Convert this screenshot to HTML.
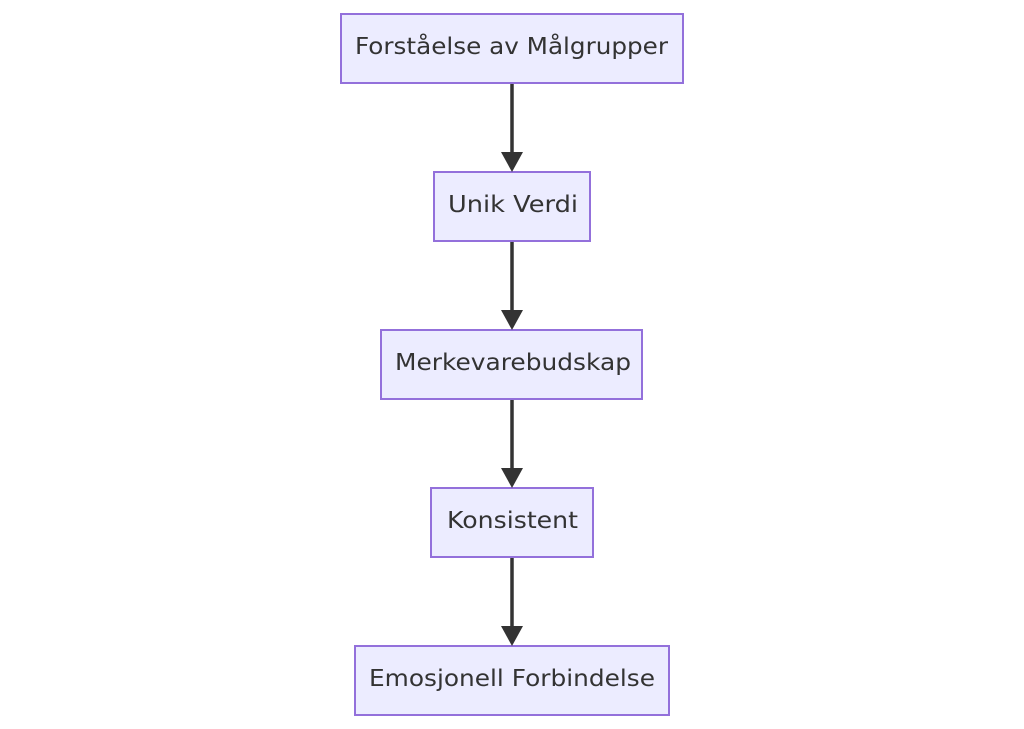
<!DOCTYPE html>
<html><head><meta charset="utf-8"><style>html,body{margin:0;padding:0;background:#fff}svg{display:block}</style></head>
<body>
<svg width="1024" height="729" viewBox="0 0 1024 729" xmlns="http://www.w3.org/2000/svg">
<g fill="#ececff" stroke="#9370db" stroke-width="2">
<rect x="341" y="14" width="342" height="69"/>
<rect x="434" y="172" width="156" height="69"/>
<rect x="381" y="330" width="261" height="69"/>
<rect x="431" y="488" width="162" height="69"/>
<rect x="355" y="646" width="314" height="69"/>
</g>
<g stroke="#333" stroke-width="3.5">
<line x1="512" y1="84" x2="512" y2="155"/>
<line x1="512" y1="242" x2="512" y2="313"/>
<line x1="512" y1="400" x2="512" y2="471"/>
<line x1="512" y1="558" x2="512" y2="629"/>
</g>
<g fill="#333">
<polygon points="501,152 523,152 512,172"/>
<polygon points="501,310 523,310 512,330"/>
<polygon points="501,468 523,468 512,488"/>
<polygon points="501,626 523,626 512,646"/>
</g>
<g font-family="DejaVu Sans, Liberation Sans, sans-serif" font-size="23" fill="#333">
<text x="355" y="54" textLength="313" lengthAdjust="spacingAndGlyphs">Forståelse av Målgrupper</text>
<text x="448" y="212" textLength="130" lengthAdjust="spacingAndGlyphs">Unik Verdi</text>
<text x="395" y="370" textLength="236" lengthAdjust="spacingAndGlyphs">Merkevarebudskap</text>
<text x="447" y="528" textLength="131" lengthAdjust="spacingAndGlyphs">Konsistent</text>
<text x="369" y="686" textLength="286" lengthAdjust="spacingAndGlyphs">Emosjonell Forbindelse</text>
</g>
</svg>
</body></html>
